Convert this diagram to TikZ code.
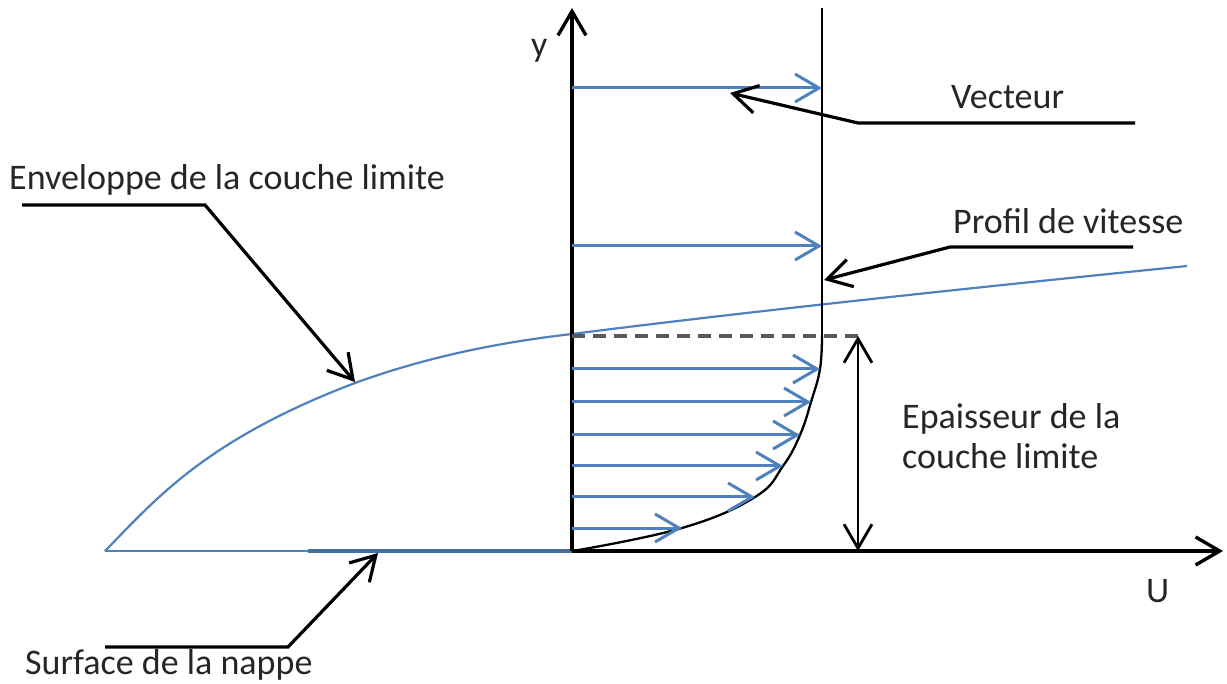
\documentclass[tikz,border=0pt]{standalone}
\usepackage{fontspec}
\setmainfont{Carlito}
\usetikzlibrary{arrows.meta}
\definecolor{vblue}{HTML}{4F81BD}
\definecolor{dgray}{HTML}{595959}
\tikzset{
  tipv/.tip={Straight Barb[length=24pt,width=28pt]},
  barb/.style={-tipv},
  dbarb/.style={tipv-tipv},
  axis/.style={line width=3.4pt, barb},
  vec/.style={vblue, line width=3pt, barb},
  leader/.style={line width=3.2pt, barb, line join=miter},
  lbl/.style={inner sep=0pt, anchor=base west, font=\fontsize{36}{43}\selectfont, text=black!85}
}
\begin{document}
\begin{tikzpicture}[x=1pt,y=-1pt]
\path[use as bounding box] (0,0) rectangle (1227,684);
% key coordinates
\coordinate (O) at (572,551);
\coordinate (ytop) at (572,8);
\coordinate (uend) at (1223,551);
\coordinate (lead) at (105,551);
\coordinate (surf) at (308,551);
\coordinate (vtop) at (822,8);
\coordinate (vbot) at (822,335);
\coordinate (dtop) at (858,336);
\coordinate (dbot) at (858,551);
\coordinate (dstart) at (572,336);
% plate
\draw[vblue, line width=2.2pt] (lead) -- (O);
\draw[vblue!85!black, line width=3.8pt] (surf) -- (O);
% envelope
\draw[vblue, line width=2.2pt] (105,551) .. controls (155,500) and (205,440) .. (355,383)
  .. controls (440,352) and (520,340) .. (572,334)
  .. controls (760,310) and (1000,285) .. (1187,266);
% axes
\draw[axis] (O) -- (ytop);
\draw[axis] (O) -- (uend);
% outer velocity line and profile
\draw[line width=2.3pt] (vtop) -- (vbot);
\draw[line width=2.3pt] plot[smooth, tension=0.7] coordinates {(822,335) (820,369) (811,402) (800,435) (783,466) (755,497) (682,528) (573,551)};
% dashed boundary layer thickness line
\draw[dgray, line width=3.2pt, dash pattern=on 13pt off 8pt] (dstart) -- (dtop);
\draw[line width=2.8pt, dbarb] (dtop) -- (dbot);
% velocity vectors
\coordinate (a1s) at (572,88);  \coordinate (a1e) at (822,88);
\coordinate (a2s) at (572,246); \coordinate (a2e) at (822,246);
\coordinate (a3s) at (572,369); \coordinate (a3e) at (820,369);
\coordinate (a4s) at (572,402); \coordinate (a4e) at (811,402);
\coordinate (a5s) at (572,435); \coordinate (a5e) at (800,435);
\coordinate (a6s) at (572,466); \coordinate (a6e) at (783,466);
\coordinate (a7s) at (572,497); \coordinate (a7e) at (755,497);
\coordinate (a8s) at (572,528); \coordinate (a8e) at (682,528);
\foreach \i in {1,...,8} {\draw[vec] (a\i s) -- (a\i e);}
% labels
\node[lbl] (ylbl) at (531,57) {y};
\node[lbl] (ulbl) at (1146,602) {U};
\node[lbl] (vect) at (951,109) {Vecteur};
\node[lbl] (prof) at (953,234) {Profil de vitesse};
\node[lbl] (env) at (9,190) {Enveloppe de la couche limite};
\node[lbl] (surfl) at (25,674) {Surface de la nappe};
\node[lbl] (ep1) at (902,429) {Epaisseur de la};
\node[lbl] (ep2) at (902,469) {couche limite};
% leaders
\coordinate (v1) at (1135,123); \coordinate (v2) at (858,123); \coordinate (vt) at (730,93);
\draw[leader] (v1) -- (v2) -- (vt);
\coordinate (p1) at (1133,247); \coordinate (p2) at (950,247); \coordinate (pt) at (824,280);
\draw[leader] (p1) -- (p2) -- (pt);
\coordinate (e1) at (22,205); \coordinate (e2) at (205,205); \coordinate (et) at (355,382);
\draw[leader] (e1) -- (e2) -- (et);
\coordinate (s1) at (105,647); \coordinate (s2) at (288,647); \coordinate (st) at (378,553);
\draw[leader] (s1) -- (s2) -- (st);
\end{tikzpicture}
\end{document}
